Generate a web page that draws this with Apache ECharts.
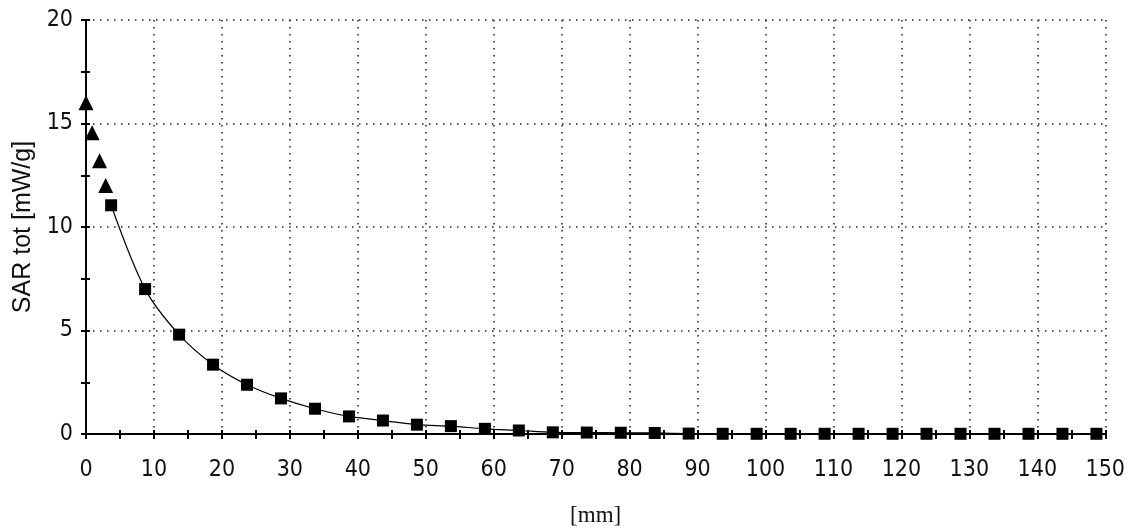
<!DOCTYPE html>
<html>
<head>
<meta charset="utf-8">
<script src="https://cdn.jsdelivr.net/npm/echarts@6/dist/echarts.min.js"></script>
<style>
html,body{margin:0;padding:0;background:#fff;}
#chart{width:1128px;height:532px;}
</style>
</head>
<body>
<div id="chart"></div>
<script>
// Near-field points (triangles)
const triX = [0, 0.9, 2.0, 2.9];
const triY = [16.0, 14.55, 13.2, 12.0];
// Measured points (squares), joined by a smooth line
const sqX = [3.7, 8.7, 13.7, 18.7, 23.7, 28.7, 33.7, 38.7, 43.7, 48.7,
             53.7, 58.7, 63.7, 68.7, 73.7, 78.7, 83.7, 88.7, 93.7, 98.7,
             103.7, 108.7, 113.7, 118.7, 123.7, 128.7, 133.7, 138.7, 143.7, 148.7];
const sqY = [11.05, 7.0, 4.8, 3.35, 2.38, 1.72, 1.22, 0.85, 0.65, 0.45,
             0.38, 0.25, 0.17, 0.08, 0.07, 0.06, 0.05, 0.02, 0.01, 0.01,
             0.01, 0.01, 0.01, 0.01, 0.01, 0.01, 0.01, 0.01, 0.01, 0.01];
const xTicks = { min: 0, max: 150, step: 10 };
const yTicks = { min: 0, max: 20, step: 5 };
const xName = '[mm]';
const yName = 'SAR tot [mW/g]';

const labelFont = "'Liberation Sans Narrow', 'DejaVu Sans Condensed', 'Liberation Sans', sans-serif";
const black = '#000';

const chart = echarts.init(document.getElementById('chart'), null, { renderer: 'canvas' });
const tri = triX.map((x, i) => [x, triY[i]]);
const sq = sqX.map((x, i) => [x, sqY[i]]);

const option = {
  backgroundColor: '#fff',
  animation: false,
  grid: { left: 86, right: 22, top: 20, bottom: 93, containLabel: false },
  xAxis: [{
    type: 'value', min: xTicks.min, max: xTicks.max, interval: xTicks.step,
    position: 'bottom',
    name: xName, nameLocation: 'middle', nameGap: 70,
    nameTextStyle: { fontFamily: "'Liberation Serif', serif", fontSize: 23, color: '#111' },
    axisLine: { show: true, onZero: false, lineStyle: { color: black, width: 2 } },
    axisTick: { show: true, inside: false, length: 5, lineStyle: { color: black, width: 2 } },
    minorTick: { show: true, splitNumber: 2, length: 5, lineStyle: { color: black, width: 2 } },
    axisLabel: { margin: 25, fontFamily: labelFont, fontSize: 23, color: '#111' },
    splitLine: { show: true, lineStyle: { color: '#222', width: 1.5, type: [1.5, 5.5] } }
  }, {
    type: 'value', min: xTicks.min, max: xTicks.max, interval: xTicks.step,
    position: 'bottom', offset: 0,
    axisLine: { show: false },
    axisTick: { show: true, inside: true, length: 4, lineStyle: { color: black, width: 2 } },
    minorTick: { show: true, splitNumber: 2, length: 4, lineStyle: { color: black, width: 2 } },
    axisLabel: { show: false },
    splitLine: { show: false }
  }],
  yAxis: [{
    type: 'value', min: yTicks.min, max: yTicks.max, interval: yTicks.step,
    position: 'left',
    name: yName, nameLocation: 'middle', nameGap: 49,
    nameTextStyle: { fontFamily: "'Liberation Sans', sans-serif", fontSize: 25, color: '#111' },
    axisLine: { show: true, onZero: false, lineStyle: { color: black, width: 2 } },
    axisTick: { show: true, inside: false, length: 5, lineStyle: { color: black, width: 2 } },
    minorTick: { show: true, splitNumber: 2, length: 5, lineStyle: { color: black, width: 2 } },
    axisLabel: { margin: 13, fontFamily: labelFont, fontSize: 23, color: '#111' },
    splitLine: { show: true, lineStyle: { color: '#222', width: 1.5, type: [1.5, 5.5] } }
  }, {
    type: 'value', min: yTicks.min, max: yTicks.max, interval: yTicks.step,
    position: 'left', offset: 0,
    axisLine: { show: false },
    axisTick: { show: true, inside: true, length: 4, lineStyle: { color: black, width: 2 } },
    minorTick: { show: true, splitNumber: 2, length: 4, lineStyle: { color: black, width: 2 } },
    axisLabel: { show: false },
    splitLine: { show: false }
  }],
  series: [{
    name: 'near', type: 'scatter', data: tri,
    symbol: 'triangle', symbolSize: 15,
    itemStyle: { color: black, opacity: 1 }
  }, {
    name: 'measured', type: 'line', data: sq, smooth: 0.3,
    symbol: 'rect', symbolSize: 12, showSymbol: true,
    lineStyle: { color: black, width: 1.2 },
    itemStyle: { color: black, opacity: 1 }
  }]
};
chart.setOption(option);
</script>
</body>
</html>
